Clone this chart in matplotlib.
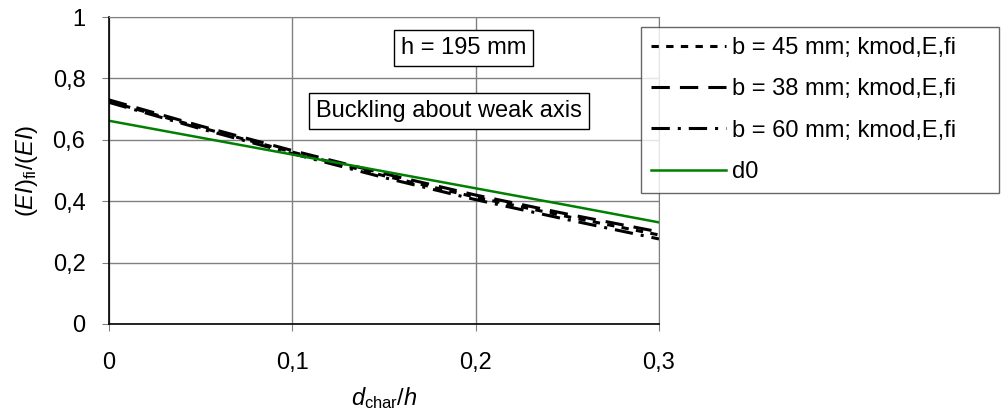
import matplotlib
matplotlib.use("Agg")
import matplotlib.pyplot as plt

plt.rcParams['font.family'] = ['Liberation Sans', 'DejaVu Sans']
plt.rcParams['mathtext.fontset'] = 'custom'
plt.rcParams['mathtext.rm'] = 'Liberation Sans'
plt.rcParams['mathtext.it'] = 'Liberation Sans:italic'

# d_char/h
ratio = [0.0, 0.05, 0.1, 0.15, 0.2, 0.25, 0.3]
b45 = [0.725, 0.640, 0.560, 0.483, 0.413, 0.350, 0.290]
b38 = [0.730, 0.645, 0.565, 0.490, 0.420, 0.358, 0.300]
b60 = [0.722, 0.636, 0.555, 0.477, 0.405, 0.340, 0.277]
d0 = [0.662, 0.607, 0.552, 0.497, 0.442, 0.387, 0.331]

labels = ['b = 45 mm; kmod,E,fi', 'b = 38 mm; kmod,E,fi', 'b = 60 mm; kmod,E,fi', 'd0']
xticks = [0, 0.1, 0.2, 0.3]
xticklabels = ['0', '0,1', '0,2', '0,3']
yticks = [0, 0.2, 0.4, 0.6, 0.8, 1.0]
yticklabels = ['0', '0,2', '0,4', '0,6', '0,8', '1']

fs = 17
W, H = 1004, 417
fig = plt.figure(figsize=(W / 100, H / 100), dpi=100)
ax = fig.add_axes([109 / W, 1 - 324 / H, 550 / W, 307 / H])

ax.plot(ratio, b45, color='black', lw=2.2, linestyle=(0, (2.4, 2.4)), label=labels[0])
ax.plot(ratio, b38, color='black', lw=2.2, linestyle=(0, (6.0, 3.3)), label=labels[1])
ax.plot(ratio, b60, color='black', lw=2.2, linestyle=(0, (6.0, 2.6, 1.0, 2.6)), label=labels[2])
ax.plot(ratio, d0, color='green', lw=1.8, label=labels[3])

ax.set_xlim(0, 0.3)
ax.set_ylim(0, 1)
ax.set_xticks(xticks)
ax.set_xticklabels(xticklabels)
ax.set_yticks(yticks)
ax.set_yticklabels(yticklabels)
ax.tick_params(labelsize=fs, length=5, direction='out', color='#808080')
ax.tick_params(axis='x', pad=15)
ax.tick_params(axis='y', pad=12)
ax.grid(True, color='#808080', lw=1)
ax.set_axisbelow(True)
for s in ['top', 'right']:
    ax.spines[s].set_color('#808080')
for s in ['left', 'bottom']:
    ax.spines[s].set_color('black')
    ax.spines[s].set_linewidth(1.2)

ax.set_xlabel(r'$\mathit{d}_{\mathrm{char}}/\mathit{h}$', fontsize=fs, labelpad=8)
ax.set_ylabel(r'$(\mathit{EI})_{\mathrm{fi}}/(\mathit{EI})$', fontsize=fs, labelpad=9)

box = dict(boxstyle='square,pad=0.3', fc='white', ec='black', lw=1)
ax.text(0.1934, 0.90, 'h = 195 mm', fontsize=fs, ha='center', va='center', bbox=box)
ax.text(0.1855, 0.694, 'Buckling about weak axis', fontsize=fs, ha='center', va='center', bbox=box)

leg = ax.legend(loc='upper left', bbox_to_anchor=(641 / W, 1 - 190 / H, 358 / W, 163 / H),
                bbox_transform=fig.transFigure, mode='expand',
                borderaxespad=0, fontsize=fs, handlelength=3.2, handletextpad=0.25,
                frameon=True, fancybox=False, edgecolor='#404040', borderpad=0.42,
                labelspacing=0.82)
leg.get_frame().set_linewidth(1)

fig.savefig('out.png', dpi=100)
